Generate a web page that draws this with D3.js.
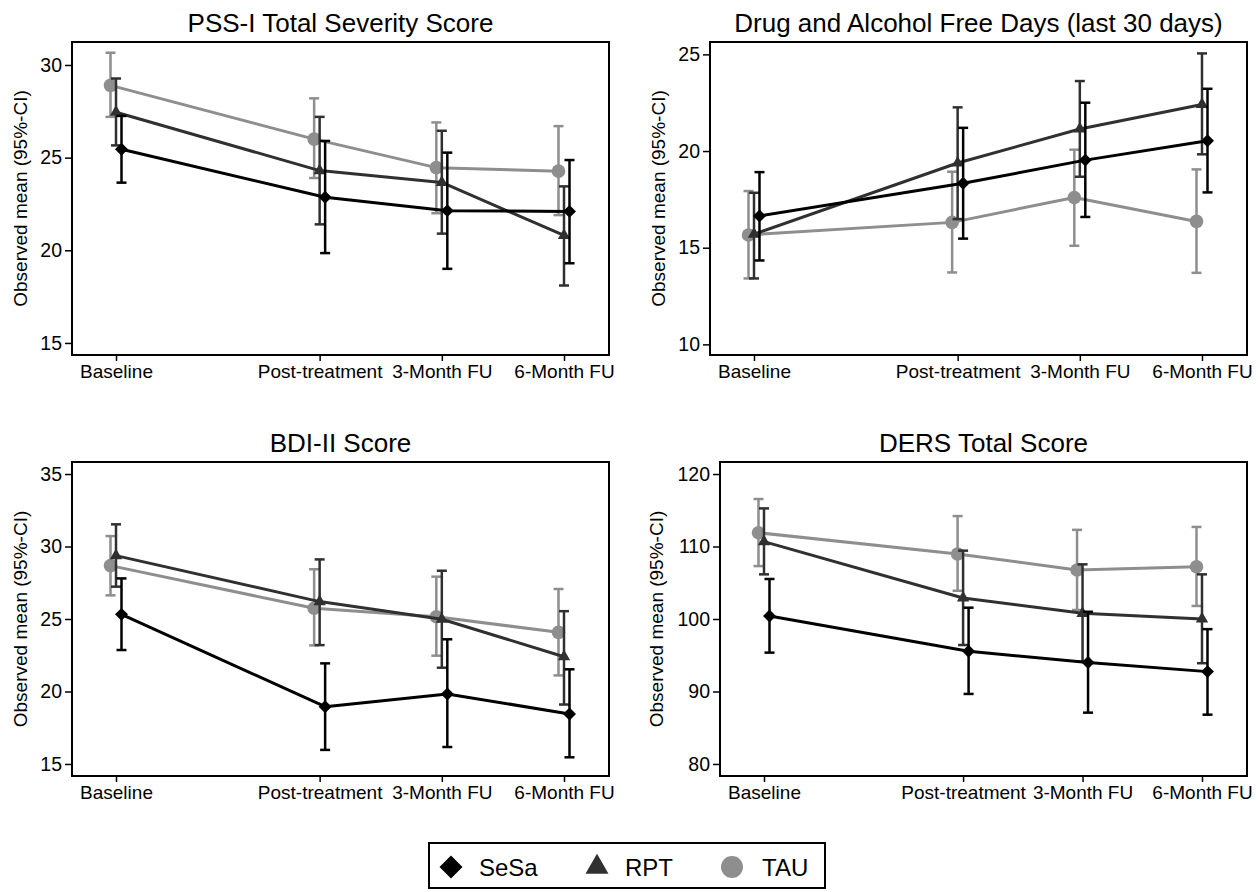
<!DOCTYPE html>
<html>
<head>
<meta charset="utf-8">
<script src="https://cdn.jsdelivr.net/npm/d3@7"></script>
<style>
  html, body { margin: 0; padding: 0; background: #fff; }
  svg { display: block; }
  text { font-family: "Liberation Sans", Arial, Helvetica, sans-serif; fill: #000; }
</style>
</head>
<body>
<svg id="chart" width="1260" height="892"></svg>
<script>
// ---------------- DATA ----------------
const timeLabels = ["Baseline", "Post-treatment", "3-Month FU", "6-Month FU"];
const timeValues = [0, 5, 8, 11];           // relative spacing of assessment points
const groups = ["SeSa", "RPT", "TAU"];

const panelTitles = [
  "PSS-I Total Severity Score",
  "Drug and Alcohol Free Days (last 30 days)",
  "BDI-II Score",
  "DERS Total Score"
];
const yLabel = "Observed mean (95%-CI)";

const yDomains = [[14.35, 31.24], [9.45, 25.64], [14.17, 35.83], [78.34, 121.66]];
const yTicks = [[15, 20, 25, 30], [10, 15, 20, 25], [15, 20, 25, 30, 35], [80, 90, 100, 110, 120]];

// PSS-I
const pssSeSaMean = [25.45, 22.86, 22.14, 22.10];
const pssSeSaLo   = [23.65, 19.85, 19.00, 19.30];
const pssSeSaHi   = [27.25, 25.90, 25.27, 24.87];
const pssRPTMean  = [27.45, 24.30, 23.66, 20.80];
const pssRPTLo    = [25.66, 21.40, 20.90, 18.10];
const pssRPTHi    = [29.27, 27.20, 26.45, 23.45];
const pssTAUMean  = [28.90, 26.00, 24.46, 24.27];
const pssTAULo    = [27.20, 23.90, 22.00, 21.90];
const pssTAUHi    = [30.66, 28.20, 26.90, 26.70];

// Drug and alcohol free days
const dafSeSaMean = [16.64, 18.33, 19.53, 20.53];
const dafSeSaLo   = [14.34, 15.47, 16.59, 17.86];
const dafSeSaHi   = [18.91, 21.20, 22.50, 23.22];
const dafRPTMean  = [15.70, 19.38, 21.14, 22.41];
const dafRPTLo    = [13.41, 16.48, 18.67, 19.83];
const dafRPTHi    = [17.84, 22.26, 23.62, 25.05];
const dafTAUMean  = [15.66, 16.31, 17.60, 16.36];
const dafTAULo    = [13.41, 13.72, 15.10, 13.70];
const dafTAUHi    = [17.93, 18.93, 20.07, 19.05];

// BDI-II
const bdiSeSaMean = [25.32, 18.95, 19.83, 18.45];
const bdiSeSaLo   = [22.86, 15.97, 16.17, 15.46];
const bdiSeSaHi   = [27.80, 21.94, 23.60, 21.53];
const bdiRPTMean  = [29.37, 26.20, 24.98, 22.40];
const bdiRPTLo    = [27.23, 23.20, 21.64, 19.10];
const bdiRPTHi    = [31.53, 29.11, 28.33, 25.54];
const bdiTAUMean  = [28.68, 25.74, 25.16, 24.08];
const bdiTAULo    = [26.63, 23.18, 22.47, 21.11];
const bdiTAUHi    = [30.72, 28.43, 27.92, 27.07];

// DERS
const dersSeSaMean = [100.41, 95.54, 94.00, 92.74];
const dersSeSaLo   = [95.36, 89.66, 87.08, 86.80];
const dersSeSaHi   = [105.52, 101.56, 101.00, 98.60];
const dersRPTMean  = [110.67, 102.90, 100.78, 100.00];
const dersRPTLo    = [106.16, 96.41, 94.10, 93.90];
const dersRPTHi    = [115.26, 109.43, 107.54, 106.16];
const dersTAUMean  = [111.90, 108.97, 106.76, 107.20];
const dersTAULo    = [107.30, 103.90, 101.24, 101.80];
const dersTAUHi    = [116.55, 114.20, 112.30, 112.70];

// ---------------- BUILD ----------------
const panelSeries = [
  { SeSa: [pssSeSaMean, pssSeSaLo, pssSeSaHi], RPT: [pssRPTMean, pssRPTLo, pssRPTHi], TAU: [pssTAUMean, pssTAULo, pssTAUHi] },
  { SeSa: [dafSeSaMean, dafSeSaLo, dafSeSaHi], RPT: [dafRPTMean, dafRPTLo, dafRPTHi], TAU: [dafTAUMean, dafTAULo, dafTAUHi] },
  { SeSa: [bdiSeSaMean, bdiSeSaLo, bdiSeSaHi], RPT: [bdiRPTMean, bdiRPTLo, bdiRPTHi], TAU: [bdiTAUMean, bdiTAULo, bdiTAUHi] },
  { SeSa: [dersSeSaMean, dersSeSaLo, dersSeSaHi], RPT: [dersRPTMean, dersRPTLo, dersRPTHi], TAU: [dersTAUMean, dersTAULo, dersTAUHi] }
];

const frames = [
  { x0: 72,  x1: 609,  y0: 42,  y1: 355, labX: 20 },
  { x0: 710, x1: 1247, y0: 42,  y1: 355, labX: 658 },
  { x0: 72,  x1: 609,  y0: 462, y1: 776, labX: 20 },
  { x0: 720, x1: 1247, y0: 462, y1: 776, labX: 656 }
];

const style = {
  SeSa: { color: "#000000", offset: 5.5, symbol: "diamond" },
  RPT:  { color: "#303030", offset: 0,   symbol: "triangle" },
  TAU:  { color: "#8e8e8e", offset: -5.5, symbol: "circle" }
};
const drawOrder = ["TAU", "RPT", "SeSa"];

function symbolPath(kind, big) {
  if (kind === "diamond") return d3.symbol(d3.symbolSquare, big ? 265 : 84)();
  if (kind === "triangle") return d3.symbol(d3.symbolTriangle, big ? 230 : 66)();
  return d3.symbol(d3.symbolCircle, big ? 380 : 145)();
}

const svg = d3.select("#chart");

frames.forEach((f, pi) => {
  const x = d3.scaleLinear().domain([0, 11]).range([f.x0 + 44, f.x1 - 45]);
  const y = d3.scaleLinear().domain(yDomains[pi]).range([f.y1, f.y0]);
  const g = svg.append("g");

  // title
  g.append("text")
    .attr("x", (f.x0 + f.x1) / 2).attr("y", f.y0 - 10)
    .attr("text-anchor", "middle").attr("font-size", 26)
    .text(panelTitles[pi]);

  // y label
  g.append("text")
    .attr("transform", `translate(${f.labX},${(f.y0 + f.y1) / 2}) rotate(-90)`)
    .attr("text-anchor", "middle").attr("dy", "0.35em").attr("font-size", 19)
    .text(yLabel);

  // axes
  const ya = g.append("g").attr("transform", `translate(${f.x0},0)`)
    .call(d3.axisLeft(y).tickValues(yTicks[pi]).tickSize(7).tickPadding(3));
  ya.select(".domain").remove();
  ya.selectAll("line").attr("stroke", "#000").attr("stroke-width", 1.5);
  ya.selectAll("text").attr("font-size", 19.5).attr("font-family", null);

  const xa = g.append("g").attr("transform", `translate(0,${f.y1})`)
    .call(d3.axisBottom(x).tickValues(timeValues).tickSize(6)
      .tickFormat((d, i) => timeLabels[i]));
  xa.select(".domain").remove();
  xa.selectAll("line").attr("stroke", "#000").attr("stroke-width", 1.5);
  xa.selectAll("text").attr("font-size", 19).attr("font-family", null)
    .attr("y", 23).attr("dy", null);

  // frame
  g.append("rect")
    .attr("x", f.x0).attr("y", f.y0)
    .attr("width", f.x1 - f.x0).attr("height", f.y1 - f.y0)
    .attr("fill", "none").attr("stroke", "#000").attr("stroke-width", 2);

  // series
  drawOrder.forEach(grp => {
    const [mean, lo, hi] = panelSeries[pi][grp];
    const st = style[grp];
    const pts = timeValues.map((t, i) => ({ cx: x(t) + st.offset, m: mean[i], lo: lo[i], hi: hi[i] }));
    const sg = g.append("g");

    // error bars
    const eb = sg.selectAll(".eb").data(pts).enter().append("g")
      .attr("stroke", st.color).attr("stroke-width", 2.5).attr("fill", "none");
    eb.append("line").attr("x1", d => d.cx).attr("x2", d => d.cx)
      .attr("y1", d => y(d.lo)).attr("y2", d => y(d.hi));
    eb.append("line").attr("x1", d => d.cx - 5).attr("x2", d => d.cx + 5)
      .attr("y1", d => y(d.lo)).attr("y2", d => y(d.lo));
    eb.append("line").attr("x1", d => d.cx - 5).attr("x2", d => d.cx + 5)
      .attr("y1", d => y(d.hi)).attr("y2", d => y(d.hi));

    // line
    sg.append("path").datum(pts)
      .attr("fill", "none").attr("stroke", st.color).attr("stroke-width", 3)
      .attr("stroke-linejoin", "round")
      .attr("d", d3.line().x(d => d.cx).y(d => y(d.m)));

    // markers
    sg.selectAll(".mk").data(pts).enter().append("path")
      .attr("d", symbolPath(st.symbol, false))
      .attr("transform", d => `translate(${d.cx},${y(d.m)})` + (st.symbol === "diamond" ? " rotate(45)" : ""))
      .attr("fill", st.color);
  });
});

// legend
const lg = svg.append("g");
lg.append("rect").attr("x", 429).attr("y", 843).attr("width", 396).attr("height", 45)
  .attr("fill", "#fff").attr("stroke", "#000").attr("stroke-width", 2);
const legendPos = [
  { mx: 451, tx: 479 },
  { mx: 597, tx: 625 },
  { mx: 732, tx: 762 }
];
groups.forEach((grp, i) => {
  const st = style[grp];
  lg.append("path")
    .attr("d", symbolPath(st.symbol, true))
    .attr("transform", `translate(${legendPos[i].mx},867)` + (st.symbol === "diamond" ? " rotate(45)" : ""))
    .attr("fill", st.color);
  lg.append("text").attr("x", legendPos[i].tx).attr("y", 876)
    .attr("font-size", 24).text(grp);
});
</script>
</body>
</html>
